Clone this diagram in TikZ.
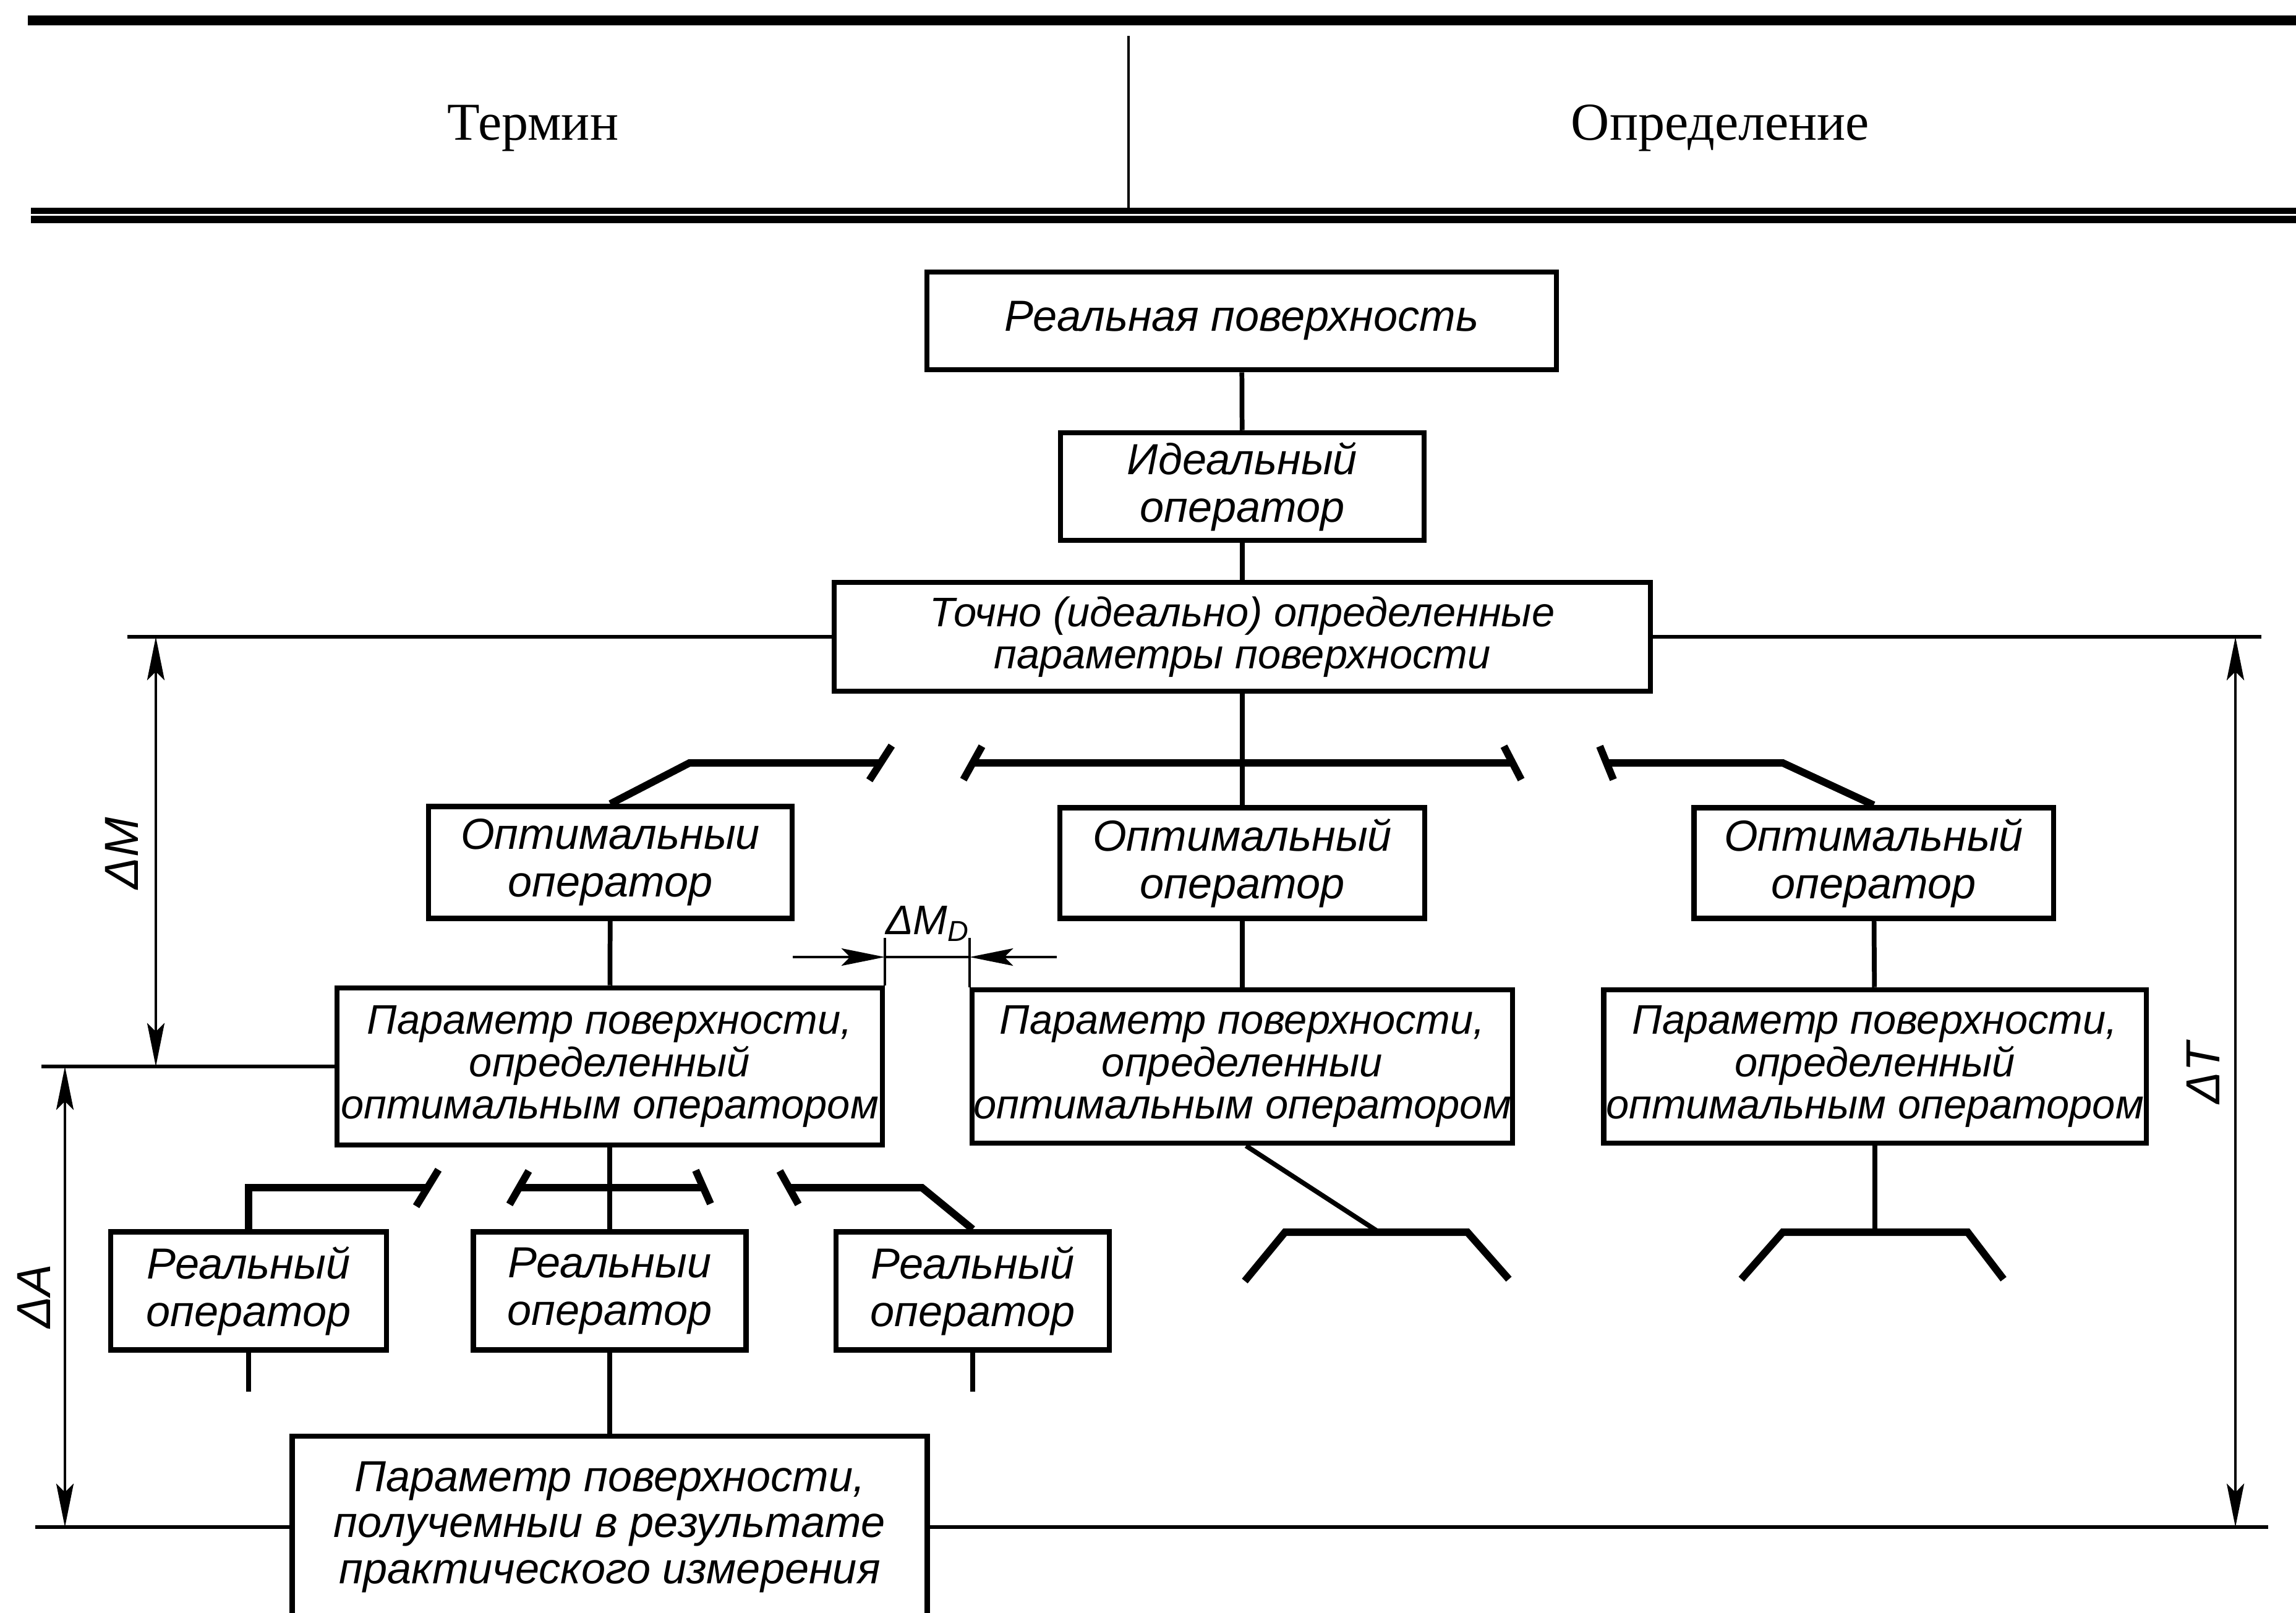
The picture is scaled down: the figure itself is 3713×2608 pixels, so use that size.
\documentclass[tikz,border=0pt]{standalone}
\usepackage{fontspec}
\setmainfont{Liberation Serif}
\newfontfamily\gostfont{Liberation Sans}
\usetikzlibrary{arrows.meta}

\begin{document}
\begin{tikzpicture}[x=0.01cm,y=-0.01cm,
    box/.style={draw,line width=2.4pt,inner sep=0pt,align=center,font=\gostfont\itshape\fontsize{20}{22}\selectfont},
    tight/.style={font=\gostfont\itshape\fontsize{19}{19.5}\selectfont},
    link/.style={line width=2.2pt},
    bar/.style={line width=3.4pt},
    ext/.style={line width=1.6pt},
    dim/.style={line width=1.1pt,>={Stealth[length=20pt,width=8pt,inset=4pt]}},
    dimlabel/.style={font=\gostfont\itshape\fontsize{22}{24}\selectfont,rotate=90},
    head/.style={font=\fontsize{24.5}{28}\selectfont}]

    \useasboundingbox (0,0) rectangle (3713,2608);

    % table head
    \draw[line width=4.5pt] (45,33) -- (3713,33);
    \draw[line width=1.2pt] (1825,58) -- (1825,337);
    \draw[line width=2.8pt] (50,341) -- (3713,341);
    \draw[line width=3.2pt] (50,355) -- (3713,355);
    \node[head] (term) at (862,207) {Термин};
    \node[head] (defn) at (2782,207) {Определение};

    % boxes
    \node[box,minimum width=10.17cm,minimum height=1.58cm] (real) at (2008,519) {Реальная поверхность};
    \node[box,minimum width=5.88cm,minimum height=1.74cm] (ideal) at (2009,787) {Идеальный\\оператор};
    \node[box,tight,minimum width=13.19cm,minimum height=1.76cm] (exact) at (2009,1030) {Точно (идеально) определенные\\параметры поверхности};

    \node[box,minimum width=5.88cm,minimum height=1.81cm] (optL) at (987,1395) {Оптимальныи\\оператор};
    \node[box,minimum width=5.90cm,minimum height=1.79cm] (optM) at (2009,1396) {Оптимальный\\оператор};
    \node[box,minimum width=5.81cm,minimum height=1.79cm] (optR) at (3030,1396) {Оптимальный\\оператор};

    \node[box,tight,minimum width=8.81cm,minimum height=2.54cm] (parL) at (986,1725) {Параметр поверхности,\\определенный\\оптимальным оператором};
    \node[box,tight,minimum width=8.73cm,minimum height=2.48cm] (parM) at (2009,1725) {Параметр поверхности,\\определенныи\\оптимальным оператором};
    \node[box,tight,minimum width=8.77cm,minimum height=2.48cm] (parR) at (3032,1725) {Параметр поверхности,\\определенный\\оптимальным оператором};

    \node[box,minimum width=4.46cm,minimum height=1.91cm] (realL) at (402,2088) {Реальный\\оператор};
    \node[box,minimum width=4.41cm,minimum height=1.91cm] (realM) at (986,2088) {Реальныи\\оператор};
    \node[box,minimum width=4.42cm,minimum height=1.91cm] (realR) at (1573,2088) {Реальный\\оператор};

    \node[box,font=\gostfont\itshape\fontsize{20}{21.3}\selectfont,minimum width=10.26cm,minimum height=2.94cm] (meas) at (986,2470) {Параметр поверхности,\\получемныи в результате\\практического измерения};

    % main chain
    \draw[link] (real) -- (ideal);
    \draw[link] (ideal) -- (exact);
    \draw[link] (exact) -- (optM);
    \draw[link] (optL) -- (parL);
    \draw[link] (optM) -- (parM);
    \draw[link] (optR) -- (parR);

    % upper branching
    \coordinate (tb1) at (1115,1234);
    \coordinate (tb2) at (1424,1234);
    \coordinate (tb3) at (1573,1234);
    \coordinate (tb4) at (2446,1234);
    \coordinate (tb5) at (2598,1234);
    \coordinate (tb6) at (2883,1234);
    \draw[bar] (optL.north) -- (tb1) -- (tb2);
    \draw[bar] (tb3) -- (tb4);
    \draw[bar] (optR.north) -- (tb6) -- (tb5);
    \draw[bar] (tb2) ++(-18,28) -- ++(36,-56);
    \draw[bar] (tb3) ++(-15,27) -- ++(30,-54);
    \draw[bar] (tb4) ++(-14,-27) -- ++(28,54);
    \draw[bar] (tb5) ++(-11,-27) -- ++(22,54);

    % lower branching
    \coordinate (lb2) at (691,1921);
    \coordinate (lb3) at (840,1921);
    \coordinate (lb4) at (1137,1921);
    \coordinate (lb5) at (1276,1921);
    \coordinate (lb6) at (1491,1921);
    \draw[bar] (realL.north) -- (realL.north |- lb2) -- (lb2);
    \draw[bar] (lb3) -- (lb4);
    \draw[link] (parL) -- (realM);
    \draw[bar] (lb5) -- (lb6) -- (realR.north);
    \draw[bar] (lb2) ++(-18,30) -- ++(36,-59);
    \draw[bar] (lb3) ++(-16,27) -- ++(31,-54);
    \draw[bar] (lb4) ++(-12,-28) -- ++(24,54);
    \draw[bar] (lb5) ++(-15,-27) -- ++(30,54);

    \coordinate (sL) at (402,2251);
    \coordinate (sR) at (1573,2251);
    \draw[link] (realL) -- (sL);
    \draw[link] (realR) -- (sR);
    \draw[link] (realM) -- (meas);

    % open ends under the middle and right parameters
    \coordinate (trM) at (2230,1993);
    \coordinate (trR) at (3032,1993);
    \draw[link] (parM.south) ++(6,0) -- (trM);
    \draw[link] (parR) -- (trR);
    \draw[bar] (2013,2072) -- (2078,1993) -- (2373,1993) -- (2440,2069);
    \draw[bar] (2816,2069) -- (2883,1993) -- (3182,1993) -- (3240,2069);

    % extension lines
    \coordinate (mL) at (206,1030);
    \coordinate (tR) at (3657,1030);
    \coordinate (aL) at (67,1725);
    \coordinate (bL) at (57,2470);
    \coordinate (bR) at (3668,2470);
    \draw[ext] (exact) -- (mL);
    \draw[ext] (exact) -- (tR);
    \draw[ext] (parL) -- (aL);
    \draw[ext] (meas) -- (bL);
    \draw[ext] (meas) -- (bR);

    % dimensions
    \coordinate (dMt) at (252,1030);
    \coordinate (dMb) at (252,1725);
    \coordinate (dAt) at (105,1725);
    \coordinate (dAb) at (105,2470);
    \coordinate (dTt) at (3615,1030);
    \coordinate (dTb) at (3615,2470);
    \draw[dim,<->] (dMt) -- (dMb);
    \draw[dim,<->] (dAt) -- (dAb);
    \draw[dim,<->] (dTt) -- (dTb);
    \node[dimlabel] (lblM) at (197,1380) {ΔM};
    \node[dimlabel] (lblA) at (55,2097) {ΔA};
    \node[dimlabel] (lblT) at (3563,1736) {ΔT};

    \coordinate (mdA) at (1282,1548);
    \coordinate (mdD) at (1709,1548);
    \coordinate (mdL) at (parL.north east |- 0,1517);
    \coordinate (mdR) at (parM.north west |- 0,1517);
    \draw[dim] (parL.north east) -- (mdL);
    \draw[dim] (parM.north west) -- (mdR);
    \draw[dim,->] (mdA) -- (mdL |- mdA);
    \draw[dim,->] (mdD) -- (mdR |- mdD);
    \draw[dim] (mdL |- mdA) -- (mdR |- mdD);
    \node[font=\gostfont\itshape\fontsize{19}{21}\selectfont] (lblMD) at (1500,1494) {ΔM\textsubscript{D}};
\end{tikzpicture}
\end{document}
